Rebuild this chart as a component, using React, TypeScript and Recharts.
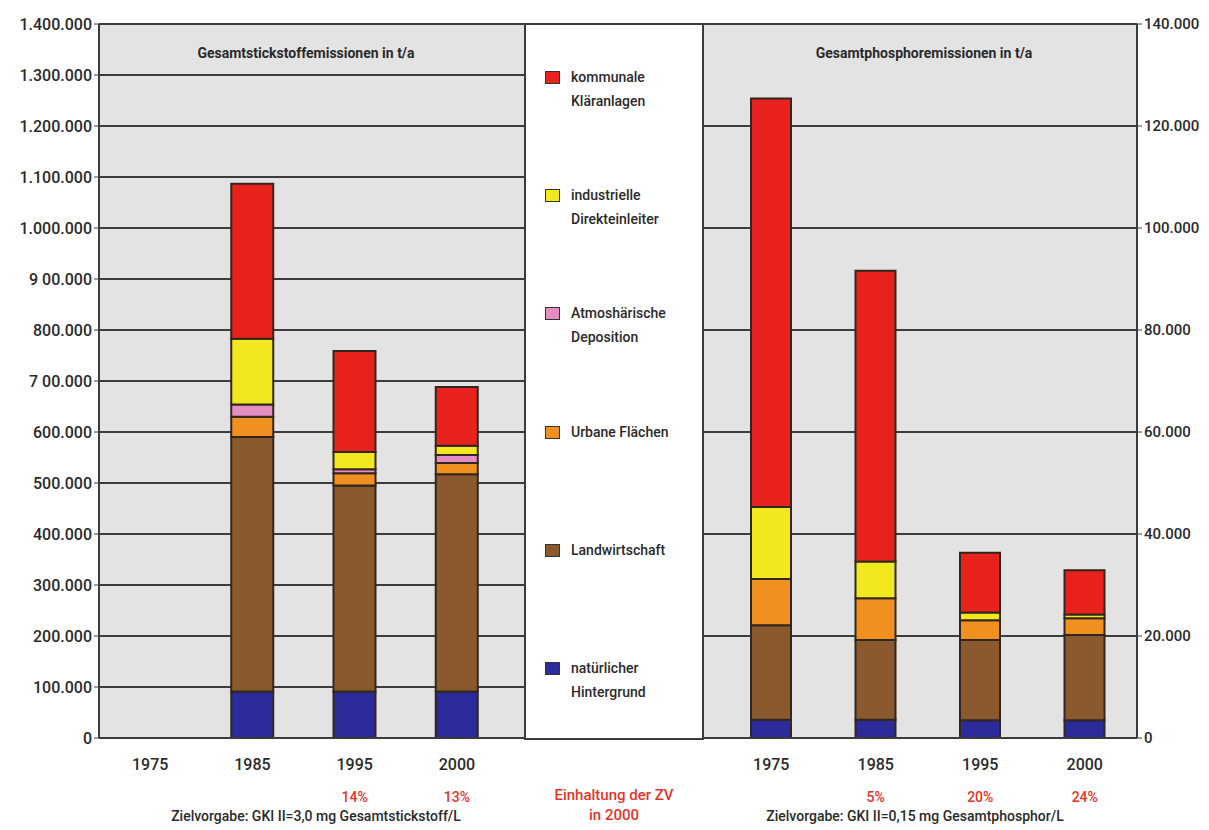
import { BarChart, Bar, XAxis, YAxis, CartesianGrid } from 'recharts';

const years = ['1975', '1985', '1995', '2000'];

// Gesamtstickstoff in t/a, Quellen von unten nach oben
const nHintergrund = [null, 91000, 91000, 91000];
const nLandwirtschaft = [null, 499000, 404000, 426000];
const nUrban = [null, 40000, 24000, 22000];
const nDeposition = [null, 24000, 8000, 16000];
const nIndustrie = [null, 129000, 34000, 18000];
const nKommunal = [null, 304000, 198000, 115000];
const nZiel = ['', '', '14%', '13%'];

// Gesamtphosphor in t/a
const pHintergrund = [3600, 3600, 3500, 3500];
const pLandwirtschaft = [18500, 15600, 15700, 16700];
const pUrban = [9100, 8200, 3900, 3300];
const pDeposition = [null, null, null, null];
const pIndustrie = [14100, 7200, 1500, 700];
const pKommunal = [80100, 57000, 11700, 8700];
const pZiel = ['', '5%', '20%', '24%'];

const nTicks = [0, 100000, 200000, 300000, 400000, 500000, 600000, 700000, 800000, 900000, 1000000, 1100000, 1200000, 1300000, 1400000];
const nTickLabels = ['0', '100.000', '200.000', '300.000', '400.000', '500.000', '600.000', '7 00.000', '800.000', '9 00.000', '1.000.000', '1.100.000', '1.200.000', '1.300.000', '1.400.000'];
const pTicks = [0, 20000, 40000, 60000, 80000, 100000, 120000, 140000];
const pTickLabels = ['0', '20.000', '40.000', '60.000', '80.000', '100.000', '120.000', '140.000'];

const series = [
  { key: 'hintergrund', lines: ['natürlicher', 'Hintergrund'], color: '#2b2b9a' },
  { key: 'landwirtschaft', lines: ['Landwirtschaft'], color: '#8a5a2e' },
  { key: 'urban', lines: ['Urbane Flächen'], color: '#f0901f' },
  { key: 'deposition', lines: ['Atmoshärische', 'Deposition'], color: '#e48ec4' },
  { key: 'industrie', lines: ['industrielle', 'Direkteinleiter'], color: '#f1e81f' },
  { key: 'kommunal', lines: ['kommunale', 'Kläranlagen'], color: '#e8221c' },
];

const nData = years.map((year, i) => ({
  year,
  hintergrund: nHintergrund[i],
  landwirtschaft: nLandwirtschaft[i],
  urban: nUrban[i],
  deposition: nDeposition[i],
  industrie: nIndustrie[i],
  kommunal: nKommunal[i],
}));

const pData = years.map((year, i) => ({
  year,
  hintergrund: pHintergrund[i],
  landwirtschaft: pLandwirtschaft[i],
  urban: pUrban[i],
  deposition: pDeposition[i],
  industrie: pIndustrie[i],
  kommunal: pKommunal[i],
}));

const FONT = 'Roboto, "DejaVu Sans", sans-serif';
const INK = '#2a2a2a';
const GRID = '#3c3c3c';
const PANEL = '#e3e3e3';
const RED = '#e5332a';

// Jahreszahl plus Zielerreichung (rot) darunter
function YearTick(props: any) {
  const { x, y, payload, notes } = props;
  const note = notes[payload.index];
  return (
    <g>
      <text x={x} y={y + 24} textAnchor="middle" fontSize={16} fontWeight={500} fill={INK}>
        {payload.value}
      </text>
      {note ? (
        <text x={x} y={y + 56} textAnchor="middle" fontSize={14} fontWeight={500} fill={RED}>
          {note}
        </text>
      ) : null}
    </g>
  );
}

function renderBars(barSize: number) {
  return series.map((s) => (
    <Bar
      key={s.key}
      dataKey={s.key}
      stackId="q"
      fill={s.color}
      stroke="#33261e"
      strokeWidth={2}
      barSize={barSize}
      isAnimationActive={false}
    />
  ));
}

export default function App() {
  return (
    <div style={{ position: 'absolute', left: 0, top: 0, width: 1209, height: 830, background: '#fff', fontFamily: FONT, color: INK }}>
      {/* Stickstoff */}
      <div style={{ position: 'absolute', left: 0, top: 0 }}>
        <BarChart width={540} height={830} data={nData} margin={{ top: 24, right: 15, left: 0, bottom: 32 }}>
          <CartesianGrid vertical={false} fill={PANEL} stroke={GRID} strokeWidth={2} />
          <XAxis
            dataKey="year"
            height={60}
            padding={{ left: 0, right: 17 }}
            tickLine={false}
            axisLine={{ stroke: GRID, strokeWidth: 2 }}
            interval={0}
            tick={(p: any) => <YearTick {...p} notes={nZiel} />}
          />
          <YAxis
            width={99}
            domain={[0, 1400000]}
            ticks={nTicks}
            interval={0}
            tickSize={5}
            tickMargin={2}
            tickFormatter={(v: number) => nTickLabels[nTicks.indexOf(v)]}
            tick={{ fontSize: 16, fontWeight: 500, fill: INK }}
            axisLine={{ stroke: GRID, strokeWidth: 2 }}
            tickLine={{ stroke: GRID }}
          />
          {renderBars(42)}
        </BarChart>
      </div>

      {/* Phosphor */}
      <div style={{ position: 'absolute', left: 690, top: 0 }}>
        <BarChart width={519} height={830} data={pData} margin={{ top: 24, right: 0, left: 13, bottom: 32 }}>
          <CartesianGrid vertical={false} fill={PANEL} stroke={GRID} strokeWidth={2} />
          <XAxis
            dataKey="year"
            height={60}
            padding={{ left: 16, right: 0 }}
            tickLine={false}
            axisLine={{ stroke: GRID, strokeWidth: 2 }}
            interval={0}
            tick={(p: any) => <YearTick {...p} notes={pZiel} />}
          />
          <YAxis
            orientation="right"
            width={72}
            domain={[0, 140000]}
            ticks={pTicks}
            interval={0}
            tickSize={5}
            tickMargin={2}
            tickFormatter={(v: number) => pTickLabels[pTicks.indexOf(v)]}
            tick={{ fontSize: 15, fontWeight: 500, fill: INK }}
            axisLine={{ stroke: GRID, strokeWidth: 2 }}
            tickLine={{ stroke: GRID }}
          />
          {renderBars(40)}
        </BarChart>
      </div>

      {/* Legende im Mittelfeld */}
      <div
        style={{
          position: 'absolute',
          left: 524,
          top: 23,
          width: 176,
          height: 713,
          background: '#fff',
          border: `2px solid ${GRID}`,
        }}
      >
        {[...series].reverse().map((s, i) => (
          <div key={s.key} style={{ position: 'absolute', left: 19, top: 40 + i * 118.2, display: 'flex', alignItems: 'flex-start' }}>
            <div style={{ width: 13, height: 11, marginTop: 6, background: s.color, border: '1.5px solid #333', marginRight: 11 }} />
            <div style={{ fontSize: 14, fontWeight: 500, lineHeight: '24px' }}>
              {s.lines.map((l) => (
                <div key={l}>{l}</div>
              ))}
            </div>
          </div>
        ))}
      </div>

      {/* Titel */}
      <div style={{ position: 'absolute', left: 156, top: 45, width: 300, textAlign: 'center', fontSize: 14, fontWeight: 700 }}>
        Gesamtstickstoffemissionen in t/a
      </div>
      <div style={{ position: 'absolute', left: 774, top: 45, width: 300, textAlign: 'center', fontSize: 14, fontWeight: 700 }}>
        Gesamtphosphoremissionen in t/a
      </div>

      {/* Fußzeilen */}
      <div style={{ position: 'absolute', left: 106, top: 807, width: 420, textAlign: 'center', fontSize: 14, fontWeight: 500, lineHeight: '18px' }}>
        Zielvorgabe: GKI II=3,0 mg Gesamtstickstoff/L
      </div>
      <div style={{ position: 'absolute', left: 705, top: 807, width: 420, textAlign: 'center', fontSize: 14, fontWeight: 500, lineHeight: '18px' }}>
        Zielvorgabe: GKI II=0,15 mg Gesamtphosphor/L
      </div>
      <div style={{ position: 'absolute', left: 534, top: 785, width: 160, textAlign: 'center', fontSize: 15, fontWeight: 500, color: RED, lineHeight: '20px' }}>
        <div>Einhaltung der ZV</div>
        <div>in 2000</div>
      </div>
    </div>
  );
}
